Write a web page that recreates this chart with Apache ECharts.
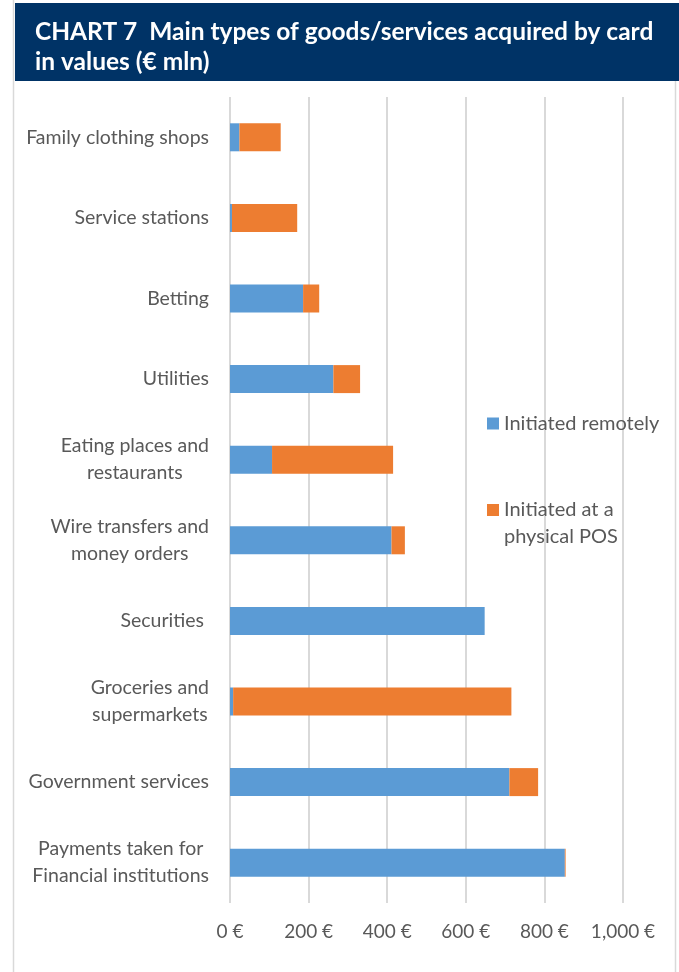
<!DOCTYPE html>
<html><head><meta charset="utf-8">
<script src="https://cdn.jsdelivr.net/npm/echarts@6/dist/echarts.min.js"></script>
<style>html,body{margin:0;padding:0;background:#fff}#c{width:679px;height:972px}</style>
</head><body><div id="c"></div>
<script>
const categories = ['Family clothing shops','Service stations','Betting','Utilities','Eating places and\nrestaurants','Wire transfers and\nmoney orders','Securities ','Groceries and\nsupermarkets','Government services','Payments taken for\nFinancial institutions'];
const remote = [24, 5, 186, 263, 107, 411, 648, 8, 711, 852];
const physical = [105, 166, 41, 68, 308, 34, 0, 708, 73, 2];
const seriesNames = ['Initiated remotely', 'Initiated at a physical POS'];
const xMin = 0, xMax = 1000, xStep = 200;
const titleText = 'CHART 7  Main types of goods/services acquired by card\nin values (\u20ac mln)';

const FONT = 'Lato';
const LBL = 19.5;
const chart = echarts.init(document.getElementById('c'), null, {renderer: 'canvas'});
chart.setOption({
  animation: false,
  backgroundColor: '#fff',
  graphic: [
    {type: 'rect', z: -1, shape: {x: 15, y: 3, width: 664, height: 78}, style: {fill: '#003366'}},
    {type: 'line', shape: {x1: 13.5, y1: 0, x2: 13.5, y2: 972}, style: {stroke: '#d9d9d9', lineWidth: 1.5}},
    {type: 'line', shape: {x1: 675.5, y1: 81, x2: 675.5, y2: 972}, style: {stroke: '#d9d9d9', lineWidth: 1.5}}
  ],
  title: {
    text: titleText, left: 35, top: 17, padding: 0,
    textStyle: {color: '#fff', fontSize: 24.5, fontWeight: 'bold', fontFamily: FONT, lineHeight: 30}
  },
  grid: {left: 230, right: 56, top: 97, bottom: 69, containLabel: false},
  legend: [
    {
      data: [seriesNames[0]], orient: 'vertical', left: 487, top: 410, padding: 0,
      itemWidth: 12, itemHeight: 12, icon: 'rect',
      textStyle: {color: '#595959', fontSize: 20, fontFamily: FONT, lineHeight: 27}
    },
    {
      data: [seriesNames[1]], orient: 'vertical', left: 487, top: 473, padding: 0,
      itemWidth: 12, itemHeight: 12, icon: 'rect',
      formatter: () => '{s| }\n{t|Initiated at a}\n{t|physical POS}',
      textStyle: {color: '#595959', fontSize: 20, fontFamily: FONT,
        rich: {s: {lineHeight: 27, fontSize: 20}, t: {lineHeight: 27, fontSize: 20, color: '#595959', fontFamily: FONT}}}
    }
  ],
  xAxis: {
    type: 'value', min: xMin, max: xMax, interval: xStep,
    axisLine: {show: false}, axisTick: {show: false},
    splitLine: {show: true, lineStyle: {color: '#d9d9d9', width: 2}},
    axisLabel: {
      margin: 19, color: '#595959', fontSize: 19, fontFamily: FONT,
      formatter: v => v.toLocaleString('en-US') + ' \u20ac'
    }
  },
  yAxis: {
    type: 'category', inverse: true, data: categories,
    axisLine: {show: false}, axisTick: {show: false},
    axisLabel: {
      margin: 21, color: '#595959', fontSize: LBL, fontFamily: FONT,
      formatter: v => v.split('\n').map(s => '{a|' + s + '}').join('\n'),
      rich: {a: {align: 'center', lineHeight: 27, fontSize: LBL, color: '#595959', fontFamily: FONT}}
    }
  },
  series: [
    {name: seriesNames[0], type: 'bar', stack: 'total', data: remote, barWidth: 28,
      itemStyle: {color: '#5B9BD5'}},
    {name: seriesNames[1], type: 'bar', stack: 'total', data: physical, barWidth: 28,
      itemStyle: {color: '#ED7D31'}}
  ]
});
</script></body></html>
